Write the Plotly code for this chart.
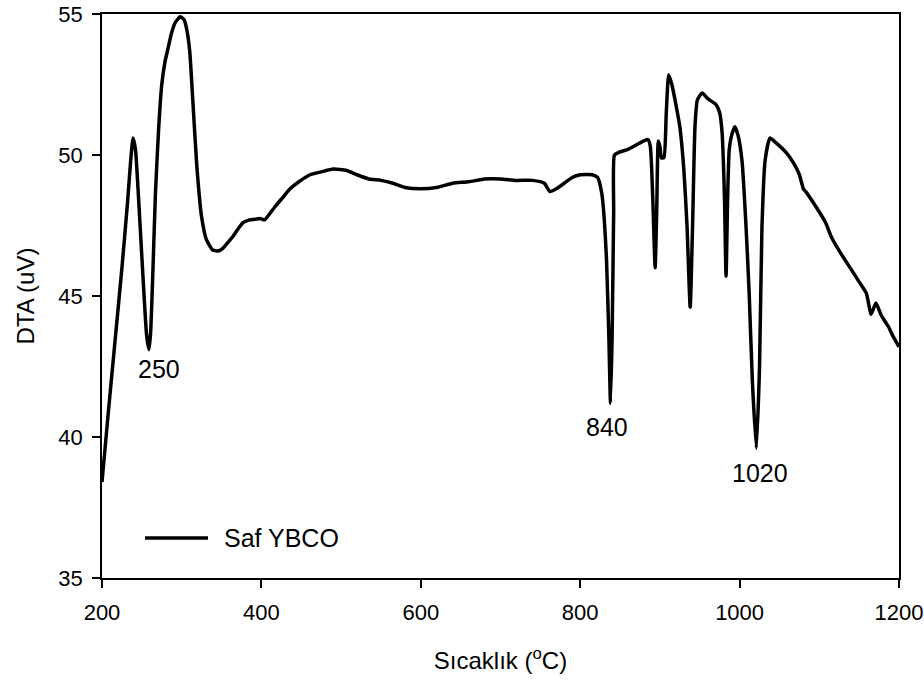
import plotly.graph_objects as go

temperature = [200, 208, 215, 225, 232, 236, 239, 242, 245, 248, 252, 256, 259, 261, 264, 267, 271, 275, 279, 283,
               287, 292, 298, 303, 306, 310, 314, 319, 325, 331, 339, 346, 352, 358, 364, 370, 377, 385, 392, 398,
               404, 410, 418, 427, 436, 447, 461, 475, 490, 507, 520, 535, 550, 565,
               580, 600, 620, 640, 660, 680, 700, 720, 740, 755, 762, 770, 780, 790, 800, 815, 822, 827, 830, 833,
               836, 838, 840, 842, 843, 849, 860, 870, 880, 885, 888, 891, 894, 896, 898, 900, 902, 905, 908, 911,
               915, 920, 925, 930, 934, 938, 941, 944, 947, 953, 960, 970, 975, 978, 981, 983, 985, 987, 990, 994,
               998, 1003, 1008, 1012, 1016, 1021, 1025, 1028, 1032, 1038, 1045, 1058, 1068, 1075, 1080, 1083, 1095,
               1108, 1115, 1125, 1141, 1150, 1159, 1165, 1171, 1178, 1187, 1192, 1200]
dta = [38.4, 40.9, 43.0, 46.0, 48.3, 49.8, 50.6, 50.2, 48.9, 47.4, 45.4, 43.6, 43.1, 43.7, 46.0, 48.6, 50.9, 52.5, 53.3, 53.8,
       54.3, 54.7, 54.9, 54.8, 54.5, 53.7, 51.9, 49.6, 47.8, 47.0, 46.63, 46.6, 46.7, 46.9, 47.1, 47.35, 47.6, 47.7, 47.72, 47.75,
       47.7, 47.9, 48.2, 48.5, 48.8, 49.05, 49.3, 49.4, 49.5, 49.45, 49.3, 49.15, 49.1, 49.0,
       48.85, 48.8, 48.85, 49.0, 49.05, 49.15, 49.15, 49.1, 49.1, 49.0, 48.7, 48.8, 49.0, 49.2, 49.3, 49.3, 49.2, 48.65, 47.8, 46.3,
       43.5, 41.2, 43.5, 48.0, 50.0, 50.1, 50.2, 50.35, 50.5, 50.55, 50.3, 48.5, 46.0, 48.0, 50.5, 50.3, 49.9, 49.9, 51.5, 52.85,
       52.5, 51.8, 51.0, 49.5, 47.5, 44.6, 47.5, 51.0, 51.95, 52.2, 52.0, 51.8, 51.5, 50.8, 48.5, 45.7, 48.5, 50.2, 50.7, 51.0,
       50.7, 49.8, 47.5, 45.1, 42.0, 39.6, 42.5, 47.4, 49.8, 50.6, 50.45, 50.1, 49.7, 49.3, 48.8, 48.7, 48.2,
       47.6, 47.1, 46.6, 45.9, 45.5, 45.1, 44.35, 44.75, 44.3, 43.9, 43.6, 43.2]

x_ticks = [200, 400, 600, 800, 1000, 1200]
y_ticks = [35, 40, 45, 50, 55]
peak_labels = ["250", "840", "1020"]
peak_x = [271, 834, 1025]
peak_y = [42.4, 40.35, 38.72]
series_name = "Saf YBCO"

FONT = "Liberation Sans, Arial, sans-serif"

fig = go.Figure()
fig.add_trace(go.Scatter(x=temperature, y=dta, mode="lines", name=series_name,
                         line=dict(color="black", width=3.5, shape="spline", smoothing=0.5),
                         showlegend=False))

for lab, px, py in zip(peak_labels, peak_x, peak_y):
    fig.add_annotation(x=px, y=py, text=lab, showarrow=False,
                       font=dict(size=25, color="black", family=FONT))

# legend drawn as a key line plus label
fig.add_shape(type="line", xref="paper", yref="paper", x0=0.054, x1=0.133, y0=0.071, y1=0.071,
              line=dict(color="black", width=3.5))
fig.add_annotation(xref="paper", yref="paper", x=0.150, y=0.071, xanchor="left", yanchor="middle",
                   text=series_name, showarrow=False, font=dict(size=25, color="black", family=FONT))

axis_common = dict(showline=True, linecolor="black", linewidth=1.5, mirror=True,
                   ticks="outside", ticklen=8, tickwidth=1.5, tickcolor="black",
                   showgrid=False, zeroline=False,
                   tickfont=dict(size=22, color="black", family=FONT))

fig.update_xaxes(range=[200, 1200], tickvals=x_ticks, ticktext=[str(v) for v in x_ticks],
                 ticklabelstandoff=6,
                 title=dict(text="Sıcaklık (<sup>o</sup>C)", standoff=28,
                            font=dict(size=24, color="black", family=FONT)),
                 **axis_common)
fig.update_yaxes(range=[35, 55], tickvals=y_ticks, ticktext=[str(v) for v in y_ticks],
                 ticklabelstandoff=5,
                 title=dict(text="DTA (uV)", standoff=17,
                            font=dict(size=24, color="black", family=FONT)),
                 **axis_common)

fig.update_layout(
    width=924, height=682,
    margin=dict(l=102, r=25, t=14, b=104, autoexpand=False),
    plot_bgcolor="white", paper_bgcolor="white",
    showlegend=False,
)

fig.write_html("out.html")
